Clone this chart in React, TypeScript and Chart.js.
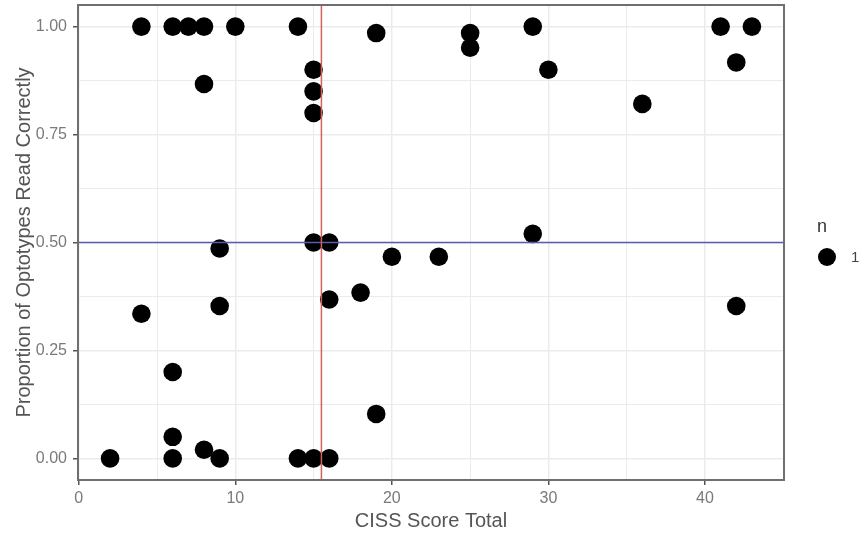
import React, { useEffect, useRef } from "react";
import { Chart, registerables } from "chart.js";

Chart.register(...registerables);

// CISS score total (x) and proportion of optotypes read correctly (y)
const cissScores = [
  4, 6, 7, 8, 10, 14, 29, 41, 43,
  8, 15, 15, 15, 19, 25, 25, 30, 36, 42,
  29, 15, 16, 9, 20, 23, 16, 18, 4, 9, 42,
  6, 6, 8, 19,
  2, 6, 9, 14, 15, 16,
];
const proportions = [
  1, 1, 1, 1, 1, 1, 1, 1, 1,
  0.867, 0.9, 0.85, 0.8, 0.985, 0.985, 0.951, 0.9, 0.821, 0.917,
  0.52, 0.5, 0.5, 0.486, 0.467, 0.467, 0.368, 0.384, 0.335, 0.353, 0.353,
  0.2, 0.05, 0.02, 0.103,
  0, 0, 0, 0, 0, 0,
];
const xMajorTicks = [0, 10, 20, 30, 40];
const xAllTicks = [0, 5, 10, 15, 20, 25, 30, 35, 40, 45];
const yMajorTicks = [0, 0.25, 0.5, 0.75, 1];
const yAllTicks = [0, 0.125, 0.25, 0.375, 0.5, 0.625, 0.75, 0.875, 1];
const cutoffX = 15.5;
const cutoffY = 0.5;
const xRange = [-0.05, 45.05];
const yRange = [-0.05, 1.05];
const legendTitle = "n";
const legendLabel = "1";

const FONT = "'Liberation Sans', Arial, sans-serif";
const ZERO_PAD = () => ({ left: 0, top: 0, right: 0, bottom: 0 });

export default function App() {
  const ref = useRef<HTMLCanvasElement | null>(null);

  useEffect(() => {
    if (!ref.current) return;
    const points = cissScores.map((x, i) => ({ x, y: proportions[i] }));

    const frame = {
      id: "frame",
      afterDatasetsDraw(chart: any) {
        const { ctx, chartArea } = chart;
        ctx.save();
        ctx.strokeStyle = "#6f6f6f";
        ctx.lineWidth = 2;
        ctx.strokeRect(chartArea.left, chartArea.top, chartArea.right - chartArea.left, chartArea.bottom - chartArea.top);
        // legend
        ctx.fillStyle = "#333";
        ctx.font = `18px ${FONT}`;
        ctx.textAlign = "left";
        ctx.textBaseline = "middle";
        ctx.fillText(legendTitle, 817, 227);
        ctx.beginPath();
        ctx.arc(827, 257, 9, 0, Math.PI * 2);
        ctx.fillStyle = "#000";
        ctx.fill();
        ctx.fillStyle = "#444";
        ctx.font = `15px ${FONT}`;
        ctx.fillText(legendLabel, 851, 258);
        ctx.restore();
      },
    };

    const chart = new Chart(ref.current, {
      type: "scatter",
      data: {
        datasets: [
          {
            data: [
              { x: cutoffX, y: yRange[0] },
              { x: cutoffX, y: yRange[1] },
            ],
            showLine: true,
            borderColor: "#d2605c",
            borderWidth: 1.5,
            pointRadius: 0,
          },
          {
            data: [
              { x: xRange[0], y: cutoffY },
              { x: xRange[1], y: cutoffY },
            ],
            showLine: true,
            borderColor: "#5a5ab0",
            borderWidth: 1.5,
            pointRadius: 0,
          },
          {
            data: points,
            backgroundColor: "#000",
            borderColor: "#000",
            pointRadius: 9.3,
            borderWidth: 0,
          },
        ],
      },
      options: {
        responsive: false,
        animation: false,
        layout: { autoPadding: false, padding: { top: 5, right: 79, left: 0, bottom: 0 } },
        plugins: { legend: { display: false }, tooltip: { enabled: false } },
        scales: {
          x: {
            type: "linear",
            min: xRange[0],
            max: xRange[1],
            afterBuildTicks: (s: any) => {
              s.ticks = xAllTicks.map((v) => ({ value: v }));
            },
            afterFit: (s: any) => {
              s.height = 57;
              s.getPadding = ZERO_PAD;
            },
            border: { display: false },
            grid: {
              color: "#ebebeb",
              lineWidth: (c: any) => (xMajorTicks.includes(c.tick?.value) ? 1.5 : 1),
              tickColor: (c: any) => (xMajorTicks.includes(c.tick?.value) ? "#555" : "rgba(0,0,0,0)"),
              tickLength: 5,
              tickWidth: 1.5,
            },
            ticks: {
              autoSkip: false,
              maxRotation: 0,
              padding: 4,
              color: "#7a7a7a",
              font: { family: FONT, size: 16 },
              callback: (v: any) => (xMajorTicks.includes(v) ? String(v) : ""),
            },
            title: {
              display: true,
              text: "CISS Score Total",
              color: "#555",
              font: { family: FONT, size: 20 },
              padding: { top: 0, bottom: 4 },
            },
          },
          y: {
            type: "linear",
            min: yRange[0],
            max: yRange[1],
            afterBuildTicks: (s: any) => {
              s.ticks = yAllTicks.map((v) => ({ value: v }));
            },
            afterFit: (s: any) => {
              s.width = 78;
              s.getPadding = ZERO_PAD;
            },
            border: { display: false },
            grid: {
              color: "#ebebeb",
              lineWidth: (c: any) => (yMajorTicks.includes(c.tick?.value) ? 1.5 : 1),
              tickColor: (c: any) => (yMajorTicks.includes(c.tick?.value) ? "#555" : "rgba(0,0,0,0)"),
              tickLength: 5,
              tickWidth: 1.5,
            },
            ticks: {
              autoSkip: false,
              padding: 6,
              color: "#7a7a7a",
              font: { family: FONT, size: 16 },
              callback: (v: any) => (yMajorTicks.includes(v) ? Number(v).toFixed(2) : ""),
            },
            title: {
              display: true,
              text: "Proportion of Optotypes Read Correctly",
              color: "#555",
              font: { family: FONT, size: 20 },
              padding: { top: 12, bottom: 0 },
            },
          },
        },
      },
      plugins: [frame],
    });
    return () => chart.destroy();
  }, []);

  return (
    <div style={{ position: "absolute", left: 0, top: 0, width: 863, height: 537, background: "#fff" }}>
      <canvas ref={ref} width={863} height={537} />
    </div>
  );
}
